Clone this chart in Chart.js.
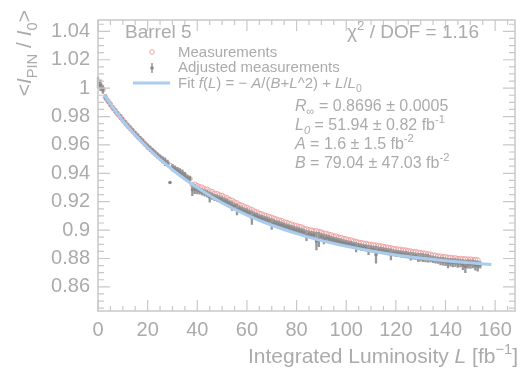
<!DOCTYPE html>
<html>
<head>
<meta charset="utf-8">
<script src="https://cdn.jsdelivr.net/npm/chart.js@4.4.1/dist/chart.umd.min.js"></script>
<style>
  html, body { margin: 0; padding: 0; background: #fff; }
</style>
</head>
<body>
<canvas id="chart" width="520" height="373"></canvas>
<script>
var lumi = [0,1,2,3,4,5,6,7,8,9,10,11,12,13,14,15,16,17,18,19,
  20,21,22,23,24,25,26,27,28,29,30,31,32,33,34,35,36,37,38,39,
  40,41,42,43,44,45,46,47,48,49,50,51,52,53,54,55,56,57,58,59,
  60,61,62,63,64,65,66,67,68,69,70,71,72,73,74,75,76,77,78,79,
  80,81,82,83,84,85,86,87,88,89,90,91,92,93,94,95,96,97,98,99,
  100,101,102,103,104,105,106,107,108,109,110,111,112,113,114,115,116,117,118,119,
  120,121,122,123,124,125,126,127,128,129,130,131,132,133,134,135,136,137,138,139,
  140,141,142,143,144,145,146,147,148,149,150,151,152,153,154];

// raw measurements (red open circles), L = 0..153
var measured = [1.0040,1.0020,0.9990,0.9935,0.9910,0.9885,0.9862,0.9840,0.9818,0.9797,
  0.9777,0.9755,0.9735,0.9716,0.9698,0.9678,0.9660,0.9642,0.9625,0.9605,
  0.9588,0.9572,0.9557,0.9540,0.9525,0.9510,0.9495,0.9482,0.9470,0.9455,
  0.9440,0.9430,0.9420,0.9408,0.9398,0.9385,0.9368,0.9362,0.9320,0.9322,
  0.9312,0.9305,0.9300,0.9290,0.9286,0.9275,0.9270,0.9258,0.9255,0.9247,
  0.9243,0.9233,0.9227,0.9215,0.9209,0.9197,0.9191,0.9179,0.9173,0.9164,
  0.9159,0.9149,0.9143,0.9133,0.9127,0.9117,0.9113,0.9105,0.9101,0.9093,
  0.9089,0.9081,0.9076,0.9069,0.9065,0.9057,0.9053,0.9045,0.9041,0.9034,
  0.9031,0.9024,0.9021,0.9011,0.9007,0.9001,0.8999,0.8994,0.8994,0.8989,
  0.8985,0.8977,0.8976,0.8969,0.8965,0.8957,0.8956,0.8949,0.8946,0.8939,
  0.8937,0.8931,0.8929,0.8922,0.8919,0.8913,0.8911,0.8906,0.8905,0.8899,
  0.8899,0.8894,0.8894,0.8889,0.8888,0.8883,0.8881,0.8876,0.8875,0.8869,
  0.8868,0.8864,0.8863,0.8859,0.8858,0.8853,0.8851,0.8847,0.8847,0.8842,
  0.8841,0.8837,0.8836,0.8831,0.8829,0.8823,0.8821,0.8816,0.8815,0.8811,
  0.8811,0.8807,0.8807,0.8803,0.8803,0.8799,0.8799,0.8796,0.8797,0.8794,
  0.8795,0.8792,0.8792,0.8789];

// adjusted measurements (grey, with error bars), L = 0..154
var adjusted = [1.0040,1.0020,0.9990,0.9935,0.9910,0.9885,0.9862,0.9840,0.9818,0.9797,
  0.9777,0.9755,0.9735,0.9716,0.9698,0.9678,0.9660,0.9642,0.9625,0.9605,
  0.9588,0.9572,0.9557,0.9540,0.9525,0.9510,0.9495,0.9482,0.9470,0.9335,
  0.9440,0.9430,0.9420,0.9408,0.9398,0.9385,0.9368,0.9362,0.9285,0.9290,
  0.9283,0.9275,0.9268,0.9262,0.9255,0.9233,0.9238,0.9230,0.9224,0.9218,
  0.9212,0.9204,0.9196,0.9186,0.9170,0.9168,0.9145,0.9150,0.9142,0.9135,
  0.9128,0.9120,0.9087,0.9104,0.9096,0.9088,0.9082,0.9076,0.9070,0.9064,
  0.9043,0.9052,0.9045,0.9040,0.9034,0.9028,0.9022,0.9016,0.9010,0.9005,
  0.9000,0.8995,0.8990,0.8982,0.8962,0.8972,0.8968,0.8965,0.8923,0.8933,
  0.8954,0.8937,0.8945,0.8940,0.8934,0.8928,0.8925,0.8920,0.8915,0.8910,
  0.8906,0.8902,0.8898,0.8893,0.8879,0.8884,0.8880,0.8877,0.8874,0.8860,
  0.8868,0.8865,0.8827,0.8860,0.8857,0.8854,0.8850,0.8847,0.8829,0.8840,
  0.8837,0.8835,0.8832,0.8830,0.8827,0.8824,0.8815,0.8818,0.8816,0.8806,
  0.8808,0.8806,0.8804,0.8802,0.8798,0.8794,0.8790,0.8787,0.8782,0.8780,
  0.8777,0.8767,0.8774,0.8770,0.8772,0.8767,0.8768,0.8756,0.8744,0.8762,
  0.8760,0.8762,0.8751,0.8747,0.8755];

var adjustedErr = [0.0040,0.0040,0.0030,0.0022,0.0020,0.0020,0.0020,0.0020,0.0020,0.0020,
  0.0020,0.0020,0.0020,0.0020,0.0020,0.0020,0.0020,0.0020,0.0020,0.0020,
  0.0022,0.0022,0.0022,0.0022,0.0022,0.0022,0.0025,0.0030,0.0025,0.0008,
  0.0025,0.0025,0.0025,0.0028,0.0028,0.0025,0.0022,0.0020,0.0045,0.0035,
  0.0030,0.0025,0.0025,0.0025,0.0025,0.0038,0.0025,0.0025,0.0025,0.0025,
  0.0025,0.0025,0.0025,0.0025,0.0033,0.0025,0.0041,0.0025,0.0025,0.0025,
  0.0025,0.0025,0.0050,0.0025,0.0025,0.0025,0.0025,0.0025,0.0025,0.0025,
  0.0041,0.0025,0.0025,0.0025,0.0025,0.0025,0.0025,0.0025,0.0025,0.0025,
  0.0025,0.0025,0.0025,0.0025,0.0039,0.0025,0.0025,0.0025,0.0065,0.0053,
  0.0025,0.0037,0.0025,0.0025,0.0025,0.0025,0.0025,0.0025,0.0025,0.0025,
  0.0025,0.0025,0.0025,0.0025,0.0035,0.0025,0.0025,0.0025,0.0025,0.0036,
  0.0025,0.0025,0.0062,0.0025,0.0025,0.0025,0.0025,0.0025,0.0041,0.0025,
  0.0025,0.0025,0.0025,0.0025,0.0025,0.0025,0.0030,0.0025,0.0025,0.0030,
  0.0030,0.0030,0.0030,0.0030,0.0025,0.0025,0.0025,0.0025,0.0030,0.0030,
  0.0030,0.0036,0.0030,0.0032,0.0030,0.0032,0.0030,0.0038,0.0047,0.0032,
  0.0032,0.0030,0.0036,0.0038,0.0025];

// fit curve
var fitL = [2.5, 10, 20, 30, 40, 50, 60, 70, 80, 90, 100, 110, 120, 130, 140, 150, 158.5];
var fitV = [0.9950, 0.9770, 0.9580, 0.9425, 0.9298, 0.9192, 0.9106, 0.9034, 0.8975, 0.8926,
  0.8886, 0.8853, 0.8825, 0.8803, 0.8784, 0.8769, 0.8758];

var xTicks = [0, 20, 40, 60, 80, 100, 120, 140, 160];
var yTicks = [0.86, 0.88, 0.9, 0.92, 0.94, 0.96, 0.98, 1, 1.02, 1.04];

var FONT = '"Liberation Sans", Arial, sans-serif';
var TEXT = '#ababab';
var FRAME = '#c8c8c8';

function pts(xs, ys) {
  return ys.map(function (v, i) { return { x: xs[i], y: v }; });
}

// rich text: parts = [[text, mode]], mode: n, i, sb, sp, isb
function partFont(m, size) {
  var small = m.indexOf('sb') >= 0 || m.indexOf('sp') >= 0;
  return (m.charAt(0) === 'i' ? 'italic ' : '') + (small ? size * 0.7 : size) + 'px ' + FONT;
}
function partDy(m, size) {
  if (m.indexOf('sb') >= 0) return size * 0.28;
  if (m.indexOf('sp') >= 0) return -size * 0.42;
  return 0;
}
function drawRich(ctx, parts, x, y, size, align) {
  var w = 0;
  parts.forEach(function (p) { ctx.font = partFont(p[1], size); w += ctx.measureText(p[0]).width; });
  if (align === 'right') x -= w;
  parts.forEach(function (p) {
    ctx.font = partFont(p[1], size);
    ctx.fillText(p[0], x, y + partDy(p[1], size));
    x += ctx.measureText(p[0]).width;
  });
}

var errorBars = {
  id: 'errorBars',
  beforeDatasetDraw: function (chart, args) {
    if (args.index !== 1) return;
    var ctx = chart.ctx, xs = chart.scales.x, ys = chart.scales.y;
    ctx.save();
    ctx.strokeStyle = '#989898';
    ctx.lineWidth = 2.3;
    ctx.beginPath();
    adjusted.forEach(function (v, i) {
      var px = xs.getPixelForValue(lumi[i]);
      ctx.moveTo(px, ys.getPixelForValue(v - adjustedErr[i]));
      ctx.lineTo(px, ys.getPixelForValue(v + adjustedErr[i]));
    });
    ctx.stroke();
    ctx.restore();
  }
};

var frame = {
  id: 'frame',
  afterDraw: function (chart) {
    var ctx = chart.ctx, a = chart.chartArea, xs = chart.scales.x, ys = chart.scales.y;
    ctx.save();
    ctx.strokeStyle = FRAME;
    ctx.lineWidth = 1.5;
    ctx.strokeRect(a.left, a.top, a.right - a.left, a.bottom - a.top);
    ctx.lineWidth = 1.2;
    ctx.beginPath();
    for (var k = 0; k * 5 <= xs.max; k++) {
      var px = xs.getPixelForValue(k * 5), len = k % 4 === 0 ? 11 : 5;
      ctx.moveTo(px, a.bottom); ctx.lineTo(px, a.bottom - len);
      ctx.moveTo(px, a.top); ctx.lineTo(px, a.top + len);
    }
    for (var j = 0; 0.845 + j * 0.005 <= ys.max; j++) {
      var py = ys.getPixelForValue(0.845 + j * 0.005), ylen = (j + 1) % 4 === 0 ? 12 : 6;
      ctx.moveTo(a.left, py); ctx.lineTo(a.left + ylen, py);
      ctx.moveTo(a.right, py); ctx.lineTo(a.right - ylen, py);
    }
    ctx.stroke();

    ctx.fillStyle = TEXT;
    ctx.textBaseline = 'alphabetic';
    // axis titles
    drawRich(ctx, [['Integrated Luminosity ', 'n'], ['L', 'i'], [' [fb', 'n'], ['\u22121', 'sp'], [']', 'n']], 518, 363, 21, 'right');
    ctx.save();
    ctx.translate(31, 10);
    ctx.rotate(-Math.PI / 2);
    drawRich(ctx, [['<', 'n'], ['I', 'i'], ['PIN', 'sb'], [' / ', 'n'], ['I', 'i'], ['0', 'sb'], ['>', 'n']], 0, 0, 21, 'right');
    ctx.restore();

    // header texts
    drawRich(ctx, [['Barrel 5', 'n']], 125, 38, 19);
    drawRich(ctx, [['\u03c7', 'n'], ['2', 'sp'], [' / DOF = 1.16', 'n']], 347, 38, 19);

    // legend
    ctx.strokeStyle = '#eea4a4';
    ctx.lineWidth = 1;
    ctx.beginPath(); ctx.arc(152, 52, 2.3, 0, Math.PI * 2); ctx.stroke();
    ctx.strokeStyle = '#989898';
    ctx.lineWidth = 1.5;
    ctx.beginPath(); ctx.moveTo(152, 63); ctx.lineTo(152, 73); ctx.stroke();
    ctx.fillStyle = '#888888';
    ctx.beginPath(); ctx.arc(152, 68, 1.8, 0, Math.PI * 2); ctx.fill();
    ctx.strokeStyle = '#a9ccef';
    ctx.lineWidth = 3;
    ctx.beginPath(); ctx.moveTo(133, 83); ctx.lineTo(170, 83); ctx.stroke();

    ctx.fillStyle = TEXT;
    drawRich(ctx, [['Measurements', 'n']], 178, 57, 15);
    drawRich(ctx, [['Adjusted measurements', 'n']], 178, 72, 15);
    drawRich(ctx, [['Fit ', 'n'], ['f', 'i'], ['(', 'n'], ['L', 'i'], [') = \u2212 ', 'n'], ['A', 'i'], ['/(', 'n'],
      ['B', 'i'], ['+', 'n'], ['L', 'i'], ['^2) + ', 'n'], ['L', 'i'], ['/', 'n'], ['L', 'i'], ['0', 'sb']], 178, 88, 15);

    // fit parameters
    drawRich(ctx, [['R', 'i'], ['\u221e', 'sb'], [' = 0.8696 \u00b1 0.0005', 'n']], 295, 111, 16);
    drawRich(ctx, [['L', 'i'], ['0', 'isb'], [' = 51.94 \u00b1 0.82 fb', 'n'], ['-1', 'sp']], 295, 130, 16);
    drawRich(ctx, [['A', 'i'], [' = 1.6 \u00b1 1.5 fb', 'n'], ['-2', 'sp']], 295, 149, 16);
    drawRich(ctx, [['B', 'i'], [' = 79.04 \u00b1 47.03 fb', 'n'], ['-2', 'sp']], 295, 168, 16);
    ctx.restore();
  }
};

new Chart(document.getElementById('chart'), {
  type: 'scatter',
  data: {
    datasets: [
      { type: 'line', label: 'Fit', data: pts(fitL, fitV), borderColor: '#a9ccef', borderWidth: 3,
        pointRadius: 0, cubicInterpolationMode: 'monotone', fill: false },
      { label: 'Adjusted measurements', data: pts(lumi, adjusted), pointRadius: 1.7,
        backgroundColor: '#888888', borderWidth: 0 },
      { label: 'Measurements', data: pts(lumi, measured), pointRadius: 2.4,
        borderColor: '#eea4a4', backgroundColor: 'rgba(0,0,0,0)', borderWidth: 1 }
    ]
  },
  options: {
    responsive: false,
    animation: false,
    devicePixelRatio: 1,
    layout: { padding: { top: 9, right: 2, left: 0, bottom: 0 } },
    plugins: { legend: { display: false }, tooltip: { enabled: false } },
    scales: {
      x: {
        type: 'linear', min: 0, max: 168,
        afterBuildTicks: function (s) { s.ticks = xTicks.map(function (v) { return { value: v }; }); },
        afterFit: function (s) { s.height = 62; },
        grid: { display: false, drawTicks: false }, border: { display: false },
        ticks: { color: TEXT, font: { family: FONT, size: 20 }, padding: 7, maxRotation: 0,
          callback: function (v) { return String(v); } }
      },
      y: {
        type: 'linear', min: 0.843, max: 1.048,
        afterBuildTicks: function (s) { s.ticks = yTicks.map(function (v) { return { value: v }; }); },
        afterFit: function (s) { s.width = 98; },
        grid: { display: false, drawTicks: false }, border: { display: false },
        ticks: { color: TEXT, font: { family: FONT, size: 20 }, padding: 8,
          callback: function (v) { return String(v); } }
      }
    }
  },
  plugins: [errorBars, frame]
});
</script>
</body>
</html>
